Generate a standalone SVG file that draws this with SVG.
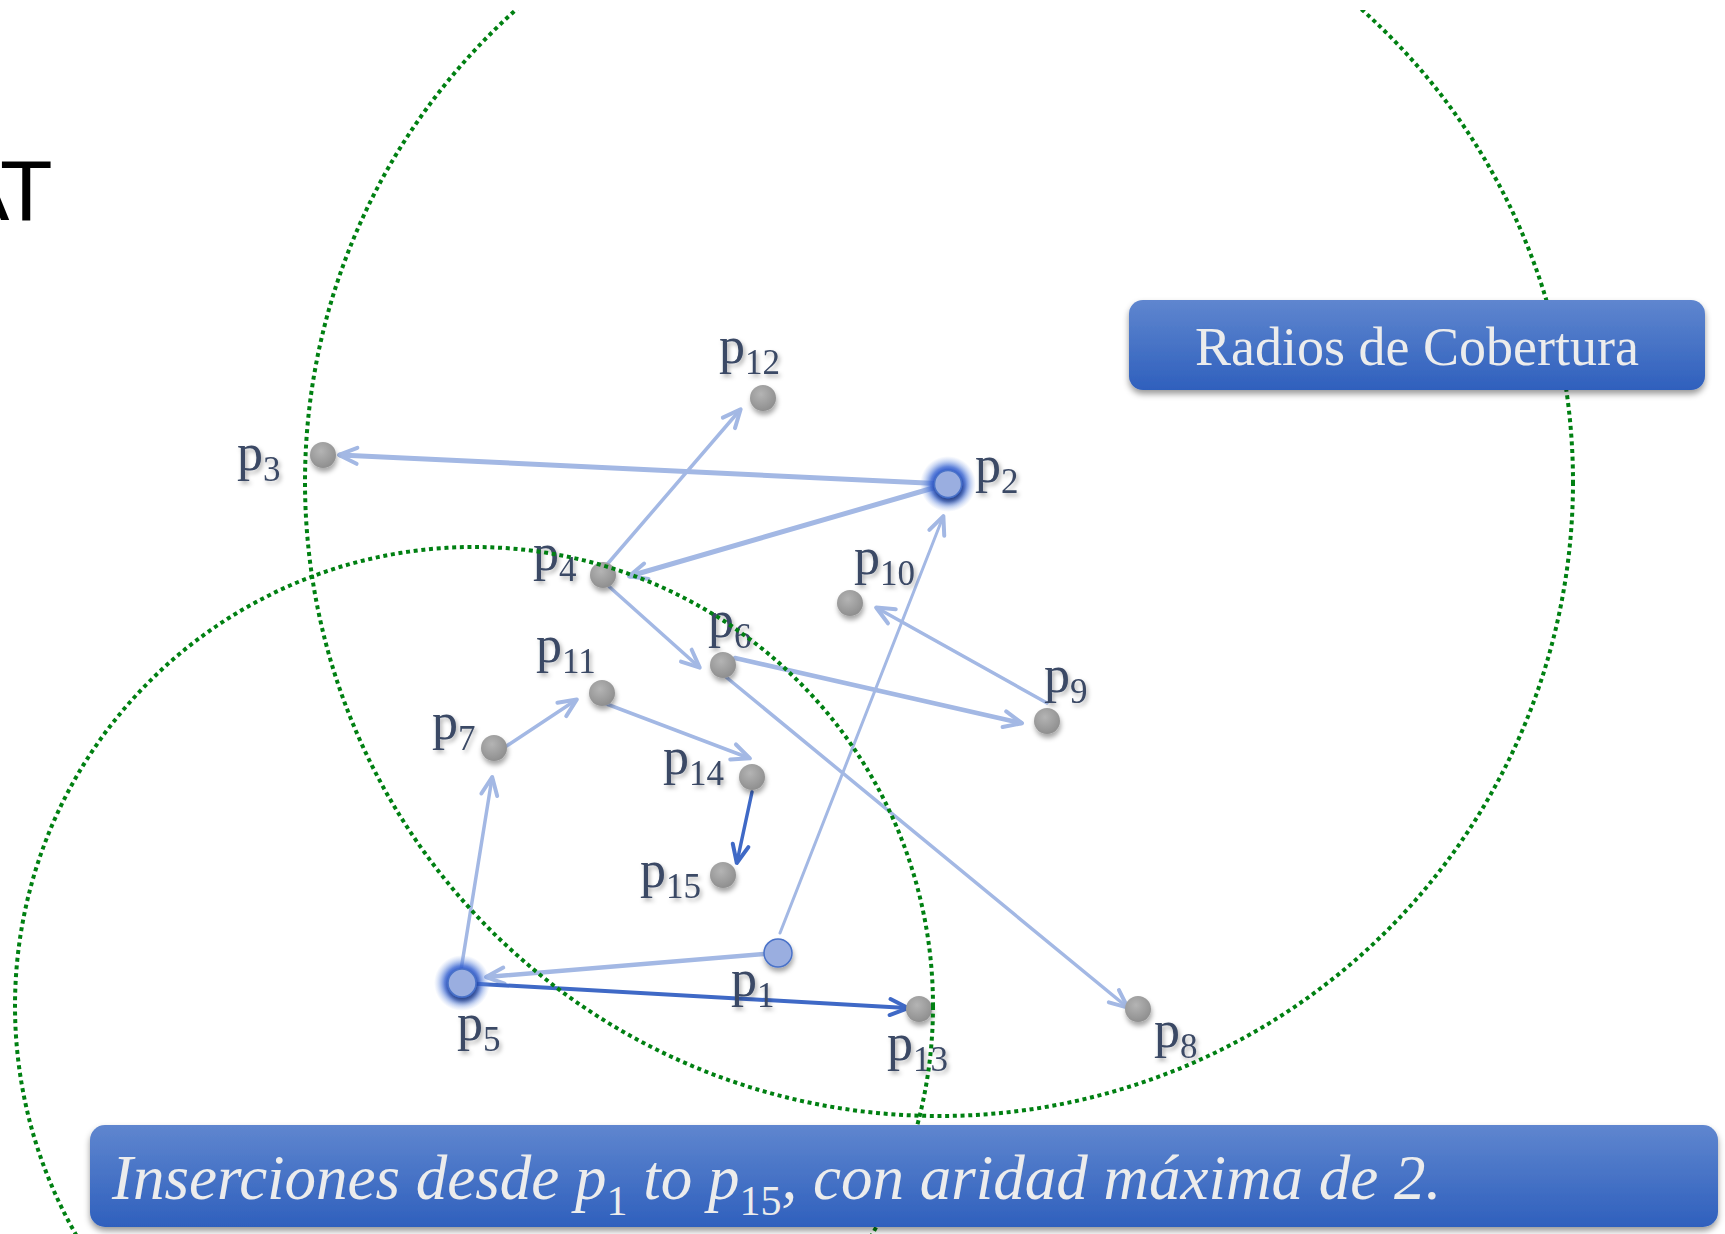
<svg xmlns="http://www.w3.org/2000/svg" width="1725" height="1234" viewBox="0 0 1725 1234">
  <defs>
    <style>
      .edge { fill: none; stroke: #a3b8e4; stroke-linecap: round; marker-end: url(#headLight); }
      .edge.dark { stroke: #3f69c6; marker-end: url(#headDark); }
      .grey { fill: url(#greyFill); filter: url(#nodeShadow); }
      .blue { fill: #9aaee0; stroke: #4a72c8; stroke-width: 1.5; filter: url(#nodeShadow); }
      .glow { fill: url(#glowFill); }
      .lbl { font-family: "Liberation Serif", "Times New Roman", serif; font-size: 52px; fill: #3b4965; filter: url(#textShadow); }
      .sub { font-size: 35px; }
      .radius { fill: none; stroke: #008012; stroke-width: 4; stroke-dasharray: 4 3.7; }
      .box { fill: url(#boxFill); filter: url(#boxShadow); }
      .boxText { font-family: "Liberation Serif", "Times New Roman", serif; fill: #ececec; }
    </style>
    <radialGradient id="greyFill" cx="0.42" cy="0.35" r="0.7">
      <stop offset="0" stop-color="#b4b4b4"/>
      <stop offset="1" stop-color="#8c8c8c"/>
    </radialGradient>
    <radialGradient id="glowFill" cx="0.5" cy="0.5" r="0.5">
      <stop offset="0.45" stop-color="#2752cc" stop-opacity="1"/>
      <stop offset="0.62" stop-color="#3864d2" stop-opacity="0.8"/>
      <stop offset="0.82" stop-color="#5f86dc" stop-opacity="0.35"/>
      <stop offset="1" stop-color="#8aa6e6" stop-opacity="0"/>
    </radialGradient>
    <linearGradient id="boxFill" x1="0" y1="0" x2="0" y2="1">
      <stop offset="0" stop-color="#5f86cf"/>
      <stop offset="1" stop-color="#2f60bd"/>
    </linearGradient>
    <filter id="nodeShadow" x="-60%" y="-60%" width="220%" height="240%">
      <feDropShadow dx="1" dy="4" stdDeviation="2.5" flood-color="#000" flood-opacity="0.35"/>
    </filter>
    <filter id="textShadow" x="-20%" y="-20%" width="150%" height="160%">
      <feDropShadow dx="2" dy="3" stdDeviation="2" flood-color="#000" flood-opacity="0.3"/>
    </filter>
    <filter id="boxShadow" x="-5%" y="-20%" width="110%" height="150%">
      <feDropShadow dx="0" dy="4" stdDeviation="3" flood-color="#000" flood-opacity="0.4"/>
    </filter>
    <marker id="headLight" markerUnits="userSpaceOnUse" markerWidth="30" markerHeight="30" refX="0" refY="0" orient="auto" overflow="visible">
      <path d="M-17,-8 L1,0 L-17,8" fill="none" stroke="#a3b8e4" stroke-width="4" stroke-linecap="round" stroke-linejoin="round"/>
    </marker>
    <marker id="headDark" markerUnits="userSpaceOnUse" markerWidth="30" markerHeight="30" refX="0" refY="0" orient="auto" overflow="visible">
      <path d="M-17,-8 L1,0 L-17,8" fill="none" stroke="#3f69c6" stroke-width="4" stroke-linecap="round" stroke-linejoin="round"/>
    </marker>
    <clipPath id="slideArea">
      <rect x="0" y="10" width="1725" height="1224"/>
    </clipPath>
  </defs>

  <rect width="1725" height="1234" fill="#ffffff"/>

  <!-- heading, running off the left edge -->
  <text x="-48 0" y="220" font-family="Liberation Sans, Arial, sans-serif" font-size="86" fill="#000">AT</text>

  <!-- insertion links -->
  <g id="connectors">
    <path class="edge" stroke-width="5" d="M947,484 L340,455"/>
    <path class="edge" stroke-width="5" d="M947,484 L630,576"/>
    <path class="edge" stroke-width="3.5" d="M604,568 L740,410"/>
    <path class="edge" stroke-width="3.5" d="M604,582 L699,667"/>
    <path class="edge" stroke-width="4.5" d="M735,658 L1021,723"/>
    <path class="edge" stroke-width="3.5" d="M1047,703 L877,608"/>
    <path class="edge" stroke-width="3.5" d="M726,677 L1127,1007"/>
    <path class="edge" stroke-width="3.5" d="M502,749 L576,700"/>
    <path class="edge" stroke-width="3.5" d="M604,703 L749,758"/>
    <path class="edge dark" stroke-width="3.5" d="M752,792 L737,862"/>
    <path class="edge" stroke-width="3" d="M780,933 L943,517"/>
    <path class="edge" stroke-width="4.5" d="M764,954 L487,977"/>
    <path class="edge" stroke-width="3.5" d="M461,970 L492,778"/>
    <path class="edge dark" stroke-width="4" d="M462,983 L907,1008"/>
  </g>

  <!-- points -->
  <g id="p1">
    <circle class="blue" cx="778" cy="953" r="14"/>
    <text class="lbl" x="731" y="996">p<tspan class="sub" dy="11">1</tspan></text>
  </g>
  <g id="p2">
    <circle class="glow" cx="948" cy="484" r="28"/>
    <circle class="blue" cx="948" cy="484" r="13.5"/>
    <text class="lbl" x="975" y="482">p<tspan class="sub" dy="11">2</tspan></text>
  </g>
  <g id="p3">
    <circle class="grey" cx="323" cy="455" r="13"/>
    <text class="lbl" x="237" y="470">p<tspan class="sub" dy="11">3</tspan></text>
  </g>
  <g id="p4">
    <circle class="grey" cx="603" cy="575" r="13"/>
    <text class="lbl" x="533" y="570">p<tspan class="sub" dy="11">4</tspan></text>
  </g>
  <g id="p5">
    <circle class="glow" cx="462" cy="983" r="28"/>
    <circle class="blue" cx="462" cy="983" r="14"/>
    <text class="lbl" x="457" y="1040">p<tspan class="sub" dy="11">5</tspan></text>
  </g>
  <g id="p6">
    <circle class="grey" cx="723" cy="665" r="13"/>
    <text class="lbl" x="708" y="637">p<tspan class="sub" dy="11">6</tspan></text>
  </g>
  <g id="p7">
    <circle class="grey" cx="494" cy="748" r="13"/>
    <text class="lbl" x="432" y="739">p<tspan class="sub" dy="11">7</tspan></text>
  </g>
  <g id="p8">
    <circle class="grey" cx="1138" cy="1009" r="13"/>
    <text class="lbl" x="1154" y="1047">p<tspan class="sub" dy="11">8</tspan></text>
  </g>
  <g id="p9">
    <circle class="grey" cx="1047" cy="721" r="13"/>
    <text class="lbl" x="1044" y="692">p<tspan class="sub" dy="11">9</tspan></text>
  </g>
  <g id="p10">
    <circle class="grey" cx="850" cy="603" r="13"/>
    <text class="lbl" x="854" y="574">p<tspan class="sub" dy="11">10</tspan></text>
  </g>
  <g id="p11">
    <circle class="grey" cx="602" cy="693" r="13"/>
    <text class="lbl" x="536" y="662">p<tspan class="sub" dy="11">11</tspan></text>
  </g>
  <g id="p12">
    <circle class="grey" cx="763" cy="398" r="13"/>
    <text class="lbl" x="719" y="363">p<tspan class="sub" dy="11">12</tspan></text>
  </g>
  <g id="p13">
    <circle class="grey" cx="919" cy="1009" r="13"/>
    <text class="lbl" x="887" y="1060">p<tspan class="sub" dy="11">13</tspan></text>
  </g>
  <g id="p14">
    <circle class="grey" cx="752" cy="777" r="13"/>
    <text class="lbl" x="663" y="774">p<tspan class="sub" dy="11">14</tspan></text>
  </g>
  <g id="p15">
    <circle class="grey" cx="723" cy="875" r="13"/>
    <text class="lbl" x="640" y="887">p<tspan class="sub" dy="11">15</tspan></text>
  </g>

  <!-- covering radii -->
  <g id="radii" clip-path="url(#slideArea)">
    <circle class="radius" cx="939" cy="482" r="634"/>
    <circle class="radius" cx="474" cy="1006" r="459"/>
  </g>

  <g id="legend">
    <rect class="box" x="1129" y="300" width="576" height="90" rx="14"/>
    <text class="boxText" x="1417" y="365" font-size="54" text-anchor="middle">Radios de Cobertura</text>
  </g>

  <g id="caption">
    <rect class="box" x="90" y="1125" width="1628" height="102" rx="15"/>
    <text class="boxText" x="112" y="1199" font-size="63" font-style="italic">Inserciones desde p<tspan font-size="42" font-style="normal" dy="16">1</tspan><tspan dy="-16"> to p</tspan><tspan font-size="42" font-style="normal" dy="16">15</tspan><tspan dy="-16">, con aridad máxima de 2.</tspan></text>
  </g>
</svg>
